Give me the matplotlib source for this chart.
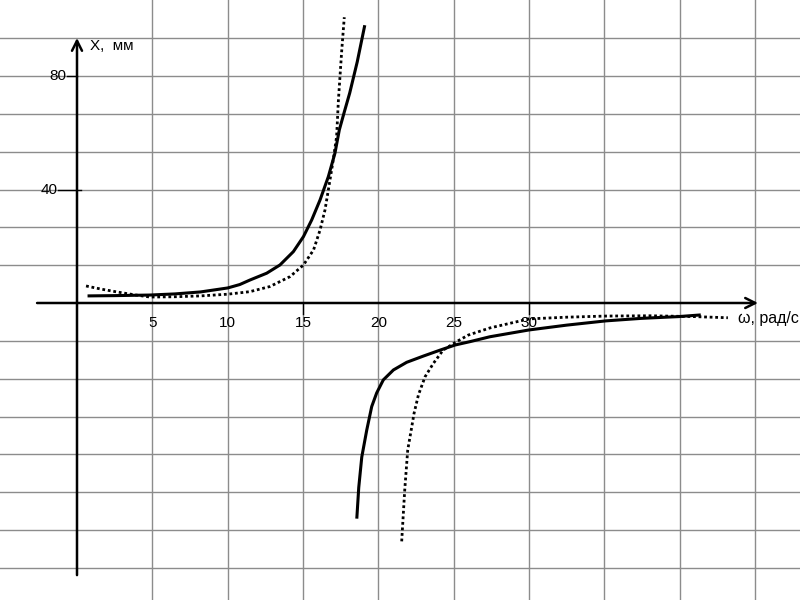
import numpy as np
import matplotlib.pyplot as plt

# ---- data ----
# solid curve, left branch (omega, X)
w_solid_1 = [0.7, 2.5, 4.8, 6.5, 8.2, 10.0, 10.8, 11.48, 12.59, 13.47, 14.36, 15.03,
             15.58, 16.13, 16.68, 17.12, 17.41, 17.75, 18.1, 18.6, 19.1]
x_solid_1 = [2.5, 2.6, 2.8, 3.2, 3.9, 5.3, 6.5, 8.1, 10.5, 13.4, 18.1, 23.4,
             29.3, 36.3, 44.5, 52.8, 61.0, 67.5, 74.0, 85.0, 97.9]
# solid curve, right branch
w_solid_2 = [18.57, 18.7, 18.9, 19.23, 19.56, 19.89, 20.33, 21.0, 21.88, 22.99, 24.1,
             25.1, 26.1, 27.4, 30.0, 32.5, 35.1, 37.5, 39.9, 41.4]
x_solid_2 = [-76.0, -65.0, -54.3, -44.8, -36.5, -31.7, -27.1, -23.6, -20.9, -18.7, -16.6,
             -14.8, -13.6, -11.9, -9.5, -7.8, -6.3, -5.4, -4.8, -4.2]
# dotted curve, left branch
w_dot_1 = [0.6, 1.6, 2.65, 3.8, 4.84, 6.5, 8.2, 10.0, 11.48, 12.8, 14.14, 15.03,
           15.7, 16.13, 16.46, 16.68, 16.97, 17.23, 17.35, 17.57, 17.74]
x_dot_1 = [6.0, 4.9, 3.9, 2.9, 2.1, 2.2, 2.5, 3.1, 4.0, 5.8, 9.3, 13.4,
           18.7, 25.7, 32.8, 39.8, 49.2, 58.6, 71.5, 89.0, 100.7]
# dotted curve, right branch
w_dot_2 = [21.55, 21.65, 21.75, 21.95, 22.2, 22.37, 22.66, 23.1, 23.65, 24.3, 25.2,
           25.97, 27.4, 30.0, 32.5, 35.1, 38.0, 41.0, 43.2]
x_dot_2 = [-84.0, -75.0, -66.0, -51.8, -44.2, -38.9, -32.4, -26.0, -21.3, -16.6, -13.6,
           -11.3, -8.8, -5.6, -5.0, -4.6, -4.5, -4.8, -5.2]

x_ticks = [5, 10, 15, 20, 25, 30]
y_ticks = [40, 80]

###########################################################################

plt.rcParams['font.family'] = ['Liberation Sans', 'DejaVu Sans']

fig = plt.figure(figsize=(8, 6), dpi=100)
ax = fig.add_axes([0, 0, 1, 1])
ax.set_axis_off()

# escala em pixels do original: 15.067 px por rad/s, 2.8375 px por mm
px_x = 15.067
px_y = 2.8375
ax.set_xlim(-77 / px_x, 723 / px_x)
ax.set_ylim(-297 / px_y, 303 / px_y)

# grade
for k in range(1, 10):
    ax.axvline(5 * k, color='#8c8c8c', lw=1.0, zorder=1)
for k in range(-7, 8):
    if k != 0:
        ax.axhline(40 / 3 * k, color='#8c8c8c', lw=1.0, zorder=1)

# eixos com setas
ax.annotate('', xy=(45.2, 0), xytext=(-2.65, 0),
            arrowprops=dict(arrowstyle='->', lw=1.8, color='black',
                            mutation_scale=18, shrinkA=0, shrinkB=0), zorder=3)
ax.annotate('', xy=(0, 93.4), xytext=(0, -95.9),
            arrowprops=dict(arrowstyle='->', lw=1.8, color='black',
                            mutation_scale=18, shrinkA=0, shrinkB=0), zorder=3)

# ticks do eixo y
ax.plot([-0.66, 0], [y_ticks[1], y_ticks[1]], color='black', lw=1.0, zorder=3)
ax.plot([-1.26, 0.27], [y_ticks[0], y_ticks[0]], color='black', lw=1.0, zorder=3)
ax.text(-0.7, y_ticks[1], str(y_ticks[1]), ha='right', va='center', fontsize=11)
ax.text(-1.3, y_ticks[0], str(y_ticks[0]), ha='right', va='center', fontsize=11)

# ticks do eixo x
for t in [15, 30]:
    ax.plot([t, t], [0, -4.0], color='black', lw=1.0, zorder=3)
for t in x_ticks:
    ax.text(t, -7.2, str(t), ha='center', va='center', fontsize=11, zorder=4)

# rotulos dos eixos
ax.text(0.85, 90.5, 'X,  мм', ha='left', va='center', fontsize=11)
ax.text(43.9, -5.4, 'ω, рад/с', ha='left', va='center', fontsize=11.5)

# curvas
ax.plot(w_solid_1, x_solid_1, color='black', lw=2.2, solid_capstyle='butt',
        solid_joinstyle='round', zorder=5)
ax.plot(w_solid_2, x_solid_2, color='black', lw=2.2, solid_capstyle='butt',
        solid_joinstyle='round', zorder=5)
ax.plot(w_dot_1, x_dot_1, color='black', lw=2.0, linestyle=(0, (1, 1)),
        dash_capstyle='butt', zorder=5)
ax.plot(w_dot_2, x_dot_2, color='black', lw=2.0, linestyle=(0, (1, 1)),
        dash_capstyle='butt', zorder=5)

plt.savefig('out.png', dpi=100)
